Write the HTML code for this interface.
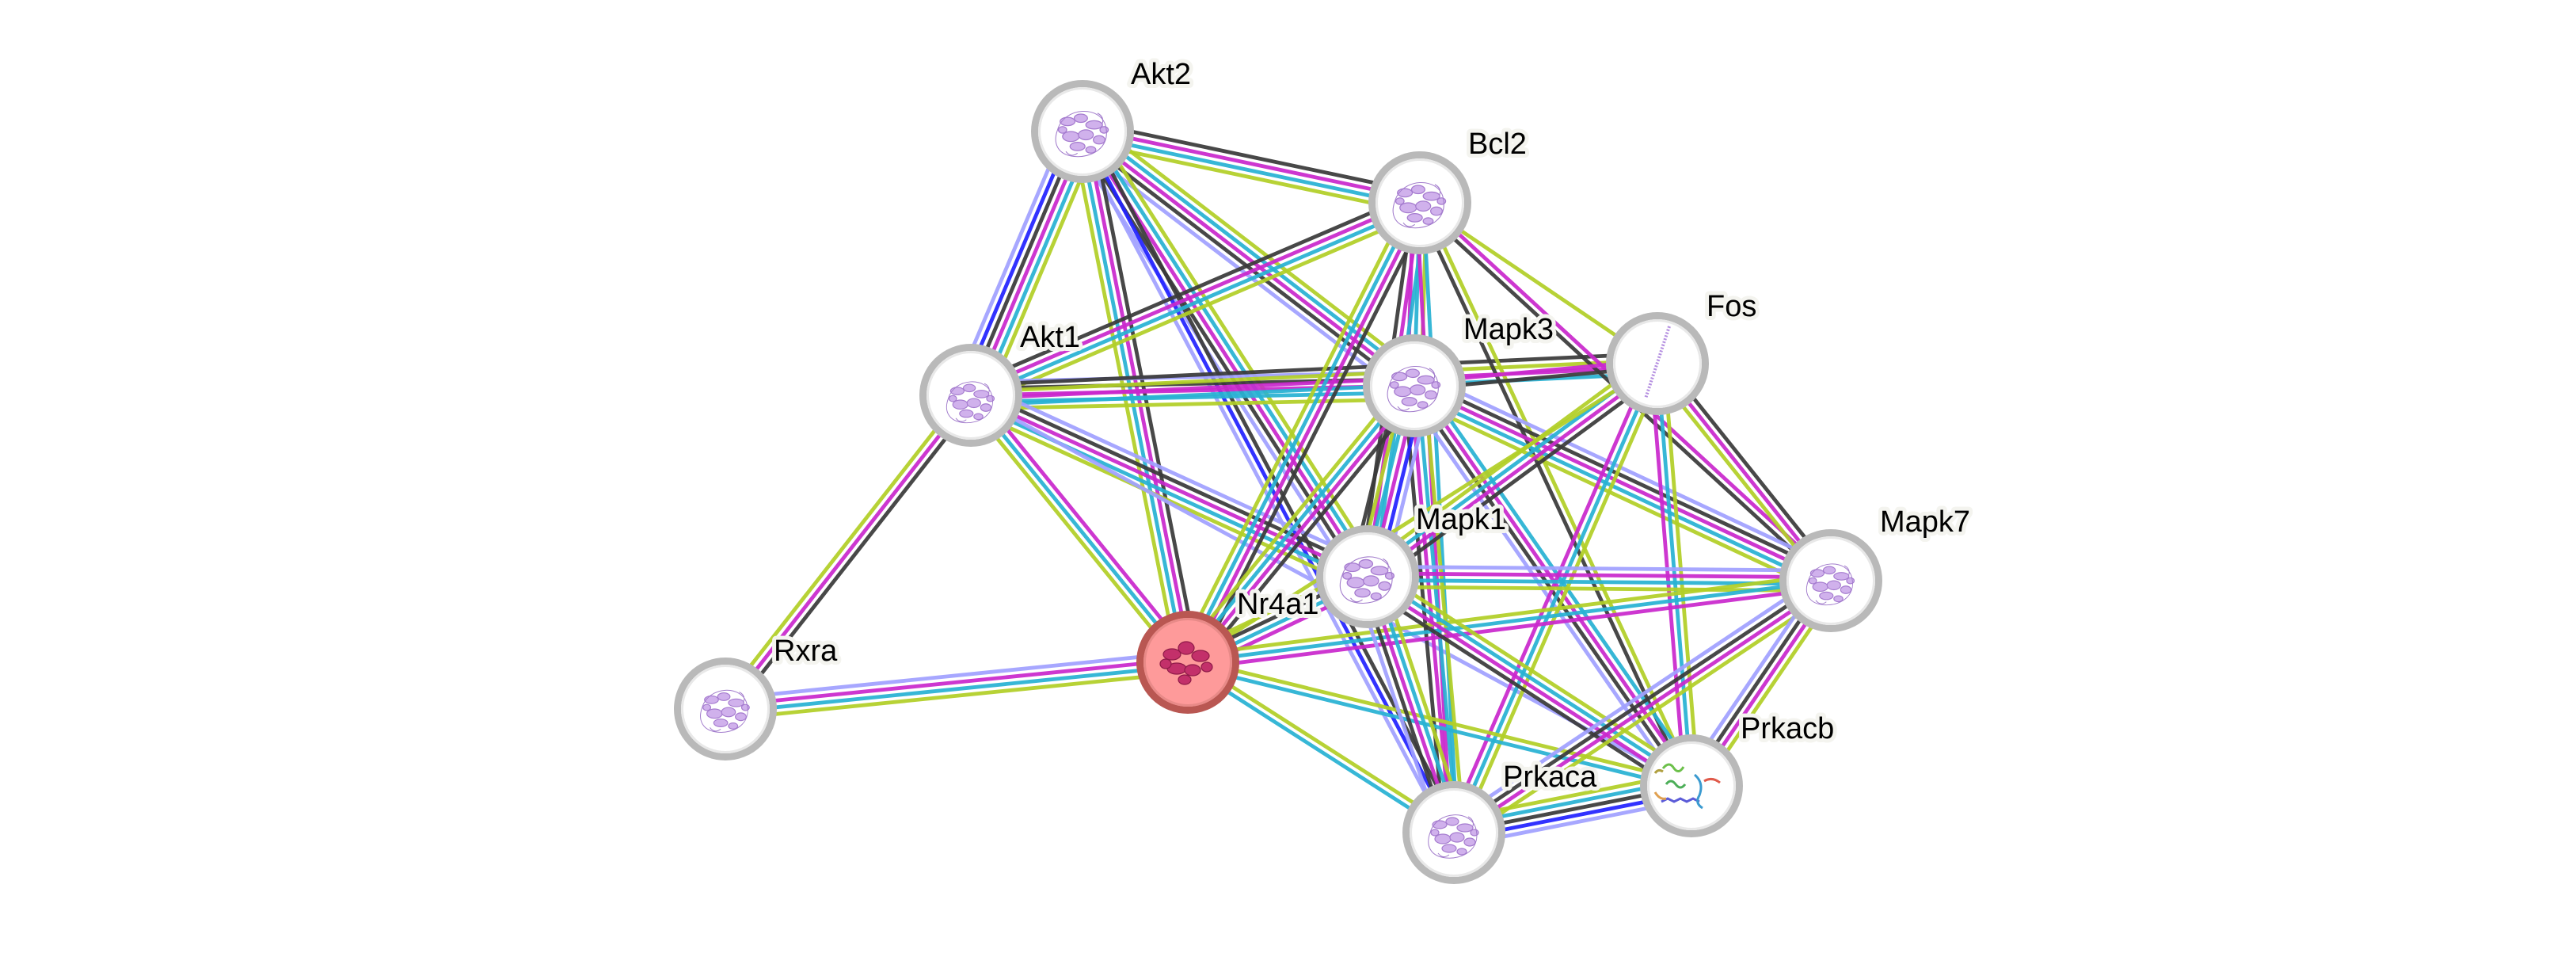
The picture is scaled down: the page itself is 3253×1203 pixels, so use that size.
<!DOCTYPE html>
<html><head><meta charset="utf-8"><style>
html,body{margin:0;padding:0;background:#fff;}
svg{display:block;}
line{stroke-width:4.8px;vector-effect:non-scaling-stroke;stroke-opacity:.93;}
.P{stroke:#a0a0ff}.U{stroke:#2222ff}.K{stroke:#3a3a3a}.M{stroke:#c928cc}.C{stroke:#28b2d3}.Y{stroke:#b2cf27}
.lb{font-family:"Liberation Sans",Arial,sans-serif;font-size:38px;fill:#000;stroke:#f4f4ef;stroke-width:10px;stroke-linejoin:round;paint-order:stroke fill;}
</style></head><body>
<svg width="3253" height="1203" viewBox="0 0 3253 1203" xmlns="http://www.w3.org/2000/svg">
<defs>
<symbol id="pr" overflow="visible" viewBox="-40 -40 80 80" width="80" height="80">
<g fill="#cba9ea" stroke="#9c6dca" stroke-width="1.2" opacity=".9">
<ellipse cx="-18" cy="-12" rx="9" ry="5"/><ellipse cx="-2" cy="-16" rx="8" ry="5"/>
<ellipse cx="14" cy="-8" rx="10" ry="5"/><ellipse cx="-14" cy="6" rx="10" ry="6"/>
<ellipse cx="4" cy="4" rx="9" ry="6"/><ellipse cx="20" cy="10" rx="7" ry="5"/>
<ellipse cx="-6" cy="18" rx="9" ry="5"/><ellipse cx="10" cy="22" rx="6" ry="4"/>
<ellipse cx="-24" cy="-2" rx="5" ry="4"/><ellipse cx="26" cy="-2" rx="5" ry="4"/>
</g>
<path fill="none" stroke="#a27ccc" stroke-width="1" d="M-30,-2 C-22,-30 22,-32 28,-6 S10,32 -10,30 S-36,14 -30,-2 M-20,24 q6,8 14,2 M18,-22 q8,4 6,12"/>
</symbol>
</defs>

<!-- edges -->
<g transform="matrix(426 90 -0.2067 0.9784 1367 166)"><line x2="1" y1="-12.75" y2="-12.75" class="K"/><line x2="1" y1="-4.25" y2="-4.25" class="M"/><line x2="1" y1="4.25" y2="4.25" class="C"/><line x2="1" y1="12.75" y2="12.75" class="Y"/></g>
<g transform="matrix(141 -333 0.9209 0.3899 1226 499)"><line x2="1" y1="-21.25" y2="-21.25" class="P"/><line x2="1" y1="-12.75" y2="-12.75" class="U"/><line x2="1" y1="-4.25" y2="-4.25" class="K"/><line x2="1" y1="4.25" y2="4.25" class="M"/><line x2="1" y1="12.75" y2="12.75" class="C"/><line x2="1" y1="21.25" y2="21.25" class="Y"/></g>
<g transform="matrix(419 321 -0.6082 0.7939 1367 166)"><line x2="1" y1="-17" y2="-17" class="Y"/><line x2="1" y1="-8.5" y2="-8.5" class="C"/><line x2="1" y1="0" y2="0" class="M"/><line x2="1" y1="8.5" y2="8.5" class="K"/><line x2="1" y1="17" y2="17" class="P"/></g>
<g transform="matrix(360 562 -0.8421 0.5394 1367 166)"><line x2="1" y1="-17" y2="-17" class="Y"/><line x2="1" y1="-8.5" y2="-8.5" class="C"/><line x2="1" y1="0" y2="0" class="M"/><line x2="1" y1="8.5" y2="8.5" class="K"/><line x2="1" y1="17" y2="17" class="P"/></g>
<g transform="matrix(469 885 -0.8836 0.4683 1367 166)"><line x2="1" y1="-8.5" y2="-8.5" class="K"/><line x2="1" y1="0" y2="0" class="U"/><line x2="1" y1="8.5" y2="8.5" class="P"/></g>
<g transform="matrix(133 670 -0.9808 0.1947 1367 166)"><line x2="1" y1="-12.75" y2="-12.75" class="K"/><line x2="1" y1="-4.25" y2="-4.25" class="M"/><line x2="1" y1="4.25" y2="4.25" class="C"/><line x2="1" y1="12.75" y2="12.75" class="Y"/></g>
<g transform="matrix(567 -243 0.3939 0.9191 1226 499)"><line x2="1" y1="-12.75" y2="-12.75" class="K"/><line x2="1" y1="-4.25" y2="-4.25" class="M"/><line x2="1" y1="4.25" y2="4.25" class="C"/><line x2="1" y1="12.75" y2="12.75" class="Y"/></g>
<g transform="matrix(560 -12 0.0214 0.9998 1226 499)"><line x2="1" y1="-17" y2="-17" class="P"/><line x2="1" y1="-8.5" y2="-8.5" class="K"/><line x2="1" y1="0" y2="0" class="M"/><line x2="1" y1="8.5" y2="8.5" class="C"/><line x2="1" y1="17" y2="17" class="Y"/></g>
<g transform="matrix(867 -40 0.0461 0.9989 1226 499)"><line x2="1" y1="-12.75" y2="-12.75" class="K"/><line x2="1" y1="-4.25" y2="-4.25" class="Y"/><line x2="1" y1="4.25" y2="4.25" class="M"/><line x2="1" y1="12.75" y2="12.75" class="C"/></g>
<g transform="matrix(501 229 -0.4157 0.9094 1226 499)"><line x2="1" y1="-17" y2="-17" class="P"/><line x2="1" y1="-8.5" y2="-8.5" class="K"/><line x2="1" y1="0" y2="0" class="M"/><line x2="1" y1="8.5" y2="8.5" class="C"/><line x2="1" y1="17" y2="17" class="Y"/></g>
<g transform="matrix(274 337 -0.7760 0.6309 1226 499)"><line x2="1" y1="-8.5" y2="-8.5" class="M"/><line x2="1" y1="0" y2="0" class="C"/><line x2="1" y1="8.5" y2="8.5" class="Y"/></g>
<g transform="matrix(310 -396 0.7874 0.6164 916 895)"><line x2="1" y1="-8.5" y2="-8.5" class="Y"/><line x2="1" y1="0" y2="0" class="M"/><line x2="1" y1="8.5" y2="8.5" class="K"/></g>
<g transform="matrix(910 493 -0.4763 0.8792 1226 499)"><line x2="1" y1="0" y2="0" class="P"/></g>
<g transform="matrix(584 -59 0.1005 0.9949 916 895)"><line x2="1" y1="-12.75" y2="-12.75" class="P"/><line x2="1" y1="-4.25" y2="-4.25" class="M"/><line x2="1" y1="4.25" y2="4.25" class="C"/><line x2="1" y1="12.75" y2="12.75" class="Y"/></g>
<g transform="matrix(7 -231 0.9996 0.0303 1786 487)"><line x2="1" y1="-8.5" y2="-8.5" class="M"/><line x2="1" y1="0" y2="0" class="C"/><line x2="1" y1="8.5" y2="8.5" class="Y"/></g>
<g transform="matrix(66 -472 0.9904 0.1385 1727 728)"><line x2="1" y1="-8.5" y2="-8.5" class="K"/><line x2="1" y1="0" y2="0" class="M"/><line x2="1" y1="8.5" y2="8.5" class="C"/></g>
<g transform="matrix(43 795 -0.9985 0.0540 1793 256)"><line x2="1" y1="-4.25" y2="-4.25" class="C"/><line x2="1" y1="4.25" y2="4.25" class="M"/></g>
<g transform="matrix(343 736 -0.9064 0.4224 1793 256)"><line x2="1" y1="-4.25" y2="-4.25" class="Y"/><line x2="1" y1="4.25" y2="4.25" class="K"/></g>
<g transform="matrix(300 203 -0.5605 0.8283 1793 256)"><line x2="1" y1="0" y2="0" class="Y"/></g>
<g transform="matrix(519 477 -0.6767 0.7363 1793 256)"><line x2="1" y1="-4.25" y2="-4.25" class="M"/><line x2="1" y1="4.25" y2="4.25" class="K"/></g>
<g transform="matrix(293 -580 0.8926 0.4509 1500 836)"><line x2="1" y1="-12.75" y2="-12.75" class="Y"/><line x2="1" y1="-4.25" y2="-4.25" class="C"/><line x2="1" y1="4.25" y2="4.25" class="M"/><line x2="1" y1="12.75" y2="12.75" class="K"/></g>
<g transform="matrix(307 -28 0.0908 0.9958 1786 487)"><line x2="1" y1="-4.25" y2="-4.25" class="M"/><line x2="1" y1="4.25" y2="4.25" class="K"/></g>
<g transform="matrix(526 246 -0.4236 0.9058 1786 487)"><line x2="1" y1="-17" y2="-17" class="P"/><line x2="1" y1="-8.5" y2="-8.5" class="K"/><line x2="1" y1="0" y2="0" class="M"/><line x2="1" y1="8.5" y2="8.5" class="C"/><line x2="1" y1="17" y2="17" class="Y"/></g>
<g transform="matrix(350 505 -0.8219 0.5697 1786 487)"><line x2="1" y1="-12.75" y2="-12.75" class="C"/><line x2="1" y1="-4.25" y2="-4.25" class="M"/><line x2="1" y1="4.25" y2="4.25" class="K"/><line x2="1" y1="12.75" y2="12.75" class="P"/></g>
<g transform="matrix(50 564 -0.9961 0.0883 1786 487)"><line x2="1" y1="-12.75" y2="-12.75" class="Y"/><line x2="1" y1="-4.25" y2="-4.25" class="C"/><line x2="1" y1="4.25" y2="4.25" class="M"/><line x2="1" y1="12.75" y2="12.75" class="K"/></g>
<g transform="matrix(59 -241 0.9714 0.2378 1727 728)"><line x2="1" y1="-21.25" y2="-21.25" class="K"/><line x2="1" y1="-12.75" y2="-12.75" class="Y"/><line x2="1" y1="-4.25" y2="-4.25" class="C"/><line x2="1" y1="4.25" y2="4.25" class="M"/><line x2="1" y1="12.75" y2="12.75" class="U"/><line x2="1" y1="21.25" y2="21.25" class="P"/></g>
<g transform="matrix(286 -349 0.7735 0.6339 1500 836)"><line x2="1" y1="-12.75" y2="-12.75" class="Y"/><line x2="1" y1="-4.25" y2="-4.25" class="C"/><line x2="1" y1="4.25" y2="4.25" class="M"/><line x2="1" y1="12.75" y2="12.75" class="K"/></g>
<g transform="matrix(366 -269 0.5922 0.8058 1727 728)"><line x2="1" y1="-12.75" y2="-12.75" class="Y"/><line x2="1" y1="-4.25" y2="-4.25" class="C"/><line x2="1" y1="4.25" y2="4.25" class="M"/><line x2="1" y1="12.75" y2="12.75" class="K"/></g>
<g transform="matrix(593 -377 0.5365 0.8439 1500 836)"><line x2="1" y1="0" y2="0" class="Y"/></g>
<g transform="matrix(219 274 -0.7811 0.6243 2093 459)"><line x2="1" y1="-8.5" y2="-8.5" class="K"/><line x2="1" y1="0" y2="0" class="M"/><line x2="1" y1="8.5" y2="8.5" class="Y"/></g>
<g transform="matrix(43 533 -0.9968 0.0804 2093 459)"><line x2="1" y1="-8.5" y2="-8.5" class="Y"/><line x2="1" y1="0" y2="0" class="C"/><line x2="1" y1="8.5" y2="8.5" class="M"/></g>
<g transform="matrix(257 -592 0.9173 0.3982 1836 1051)"><line x2="1" y1="-8.5" y2="-8.5" class="M"/><line x2="1" y1="0" y2="0" class="C"/><line x2="1" y1="8.5" y2="8.5" class="Y"/></g>
<g transform="matrix(585 5 -0.0085 1.0 1727 728)"><line x2="1" y1="-12.75" y2="-12.75" class="P"/><line x2="1" y1="-4.25" y2="-4.25" class="M"/><line x2="1" y1="4.25" y2="4.25" class="C"/><line x2="1" y1="12.75" y2="12.75" class="Y"/></g>
<g transform="matrix(227 -108 0.4296 0.9029 1500 836)"><line x2="1" y1="-12.75" y2="-12.75" class="Y"/><line x2="1" y1="-4.25" y2="-4.25" class="K"/><line x2="1" y1="4.25" y2="4.25" class="C"/><line x2="1" y1="12.75" y2="12.75" class="M"/></g>
<g transform="matrix(812 -103 0.1258 0.9921 1500 836)"><line x2="1" y1="-8.5" y2="-8.5" class="Y"/><line x2="1" y1="0" y2="0" class="C"/><line x2="1" y1="8.5" y2="8.5" class="M"/></g>
<g transform="matrix(636 156 -0.2382 0.9712 1500 836)"><line x2="1" y1="-4.25" y2="-4.25" class="Y"/><line x2="1" y1="4.25" y2="4.25" class="C"/></g>
<g transform="matrix(336 215 -0.5390 0.8423 1500 836)"><line x2="1" y1="-4.25" y2="-4.25" class="Y"/><line x2="1" y1="4.25" y2="4.25" class="C"/></g>
<g transform="matrix(109 323 -0.9475 0.3197 1727 728)"><line x2="1" y1="-17" y2="-17" class="Y"/><line x2="1" y1="-8.5" y2="-8.5" class="C"/><line x2="1" y1="0" y2="0" class="M"/><line x2="1" y1="8.5" y2="8.5" class="K"/><line x2="1" y1="17" y2="17" class="P"/></g>
<g transform="matrix(409 264 -0.5423 0.8402 1727 728)"><line x2="1" y1="-12.75" y2="-12.75" class="Y"/><line x2="1" y1="-4.25" y2="-4.25" class="C"/><line x2="1" y1="4.25" y2="4.25" class="M"/><line x2="1" y1="12.75" y2="12.75" class="K"/></g>
<g transform="matrix(300 -59 0.1930 0.9813 1836 1051)"><line x2="1" y1="-17" y2="-17" class="Y"/><line x2="1" y1="-8.5" y2="-8.5" class="C"/><line x2="1" y1="0" y2="0" class="K"/><line x2="1" y1="8.5" y2="8.5" class="U"/><line x2="1" y1="17" y2="17" class="P"/></g>
<g transform="matrix(476 -318 0.5556 0.8316 1836 1051)"><line x2="1" y1="-12.75" y2="-12.75" class="P"/><line x2="1" y1="-4.25" y2="-4.25" class="K"/><line x2="1" y1="4.25" y2="4.25" class="M"/><line x2="1" y1="12.75" y2="12.75" class="Y"/></g>
<g transform="matrix(176 -259 0.8272 0.5621 2136 992)"><line x2="1" y1="-12.75" y2="-12.75" class="P"/><line x2="1" y1="-4.25" y2="-4.25" class="K"/><line x2="1" y1="4.25" y2="4.25" class="M"/><line x2="1" y1="12.75" y2="12.75" class="Y"/></g>

<!-- nodes -->
<g stroke="#b9b9b9" stroke-width="9" fill="#fff">
<circle cx="1367" cy="166" r="60.5"/>
<circle cx="1793" cy="256" r="60.5"/>
<circle cx="1226" cy="499" r="60.5"/>
<circle cx="1786" cy="487" r="60.5"/>
<circle cx="2093" cy="459" r="60.5"/>
<circle cx="1727" cy="728" r="60.5"/>
<circle cx="2312" cy="733" r="60.5"/>
<circle cx="916" cy="895" r="60.5"/>
<circle cx="2136" cy="992" r="60.5"/>
<circle cx="1836" cy="1051" r="60.5"/>
</g>
<g stroke="#e8e8e8" stroke-width="3" fill="none">
<circle cx="1367" cy="166" r="54.5"/><circle cx="1793" cy="256" r="54.5"/><circle cx="1226" cy="499" r="54.5"/>
<circle cx="1786" cy="487" r="54.5"/><circle cx="2093" cy="459" r="54.5"/><circle cx="1727" cy="728" r="54.5"/>
<circle cx="2312" cy="733" r="54.5"/><circle cx="916" cy="895" r="54.5"/><circle cx="2136" cy="992" r="54.5"/>
<circle cx="1836" cy="1051" r="54.5"/>
</g>
<circle cx="1500" cy="836" r="60.5" fill="#fe9a9a" stroke="#b95752" stroke-width="9"/>
<circle cx="1500" cy="836" r="54.5" fill="none" stroke="#e88a88" stroke-width="3"/>

<!-- protein structures -->
<use href="#pr" x="1321" y="124" width="92" height="84"/>
<use href="#pr" x="1751" y="210" width="84" height="92"/>
<use href="#pr" x="1188" y="450" width="76" height="110"/>
<use href="#pr" x="1742" y="446" width="88" height="84"/>
<use href="#pr" x="1681" y="686" width="92" height="86"/>
<use href="#pr" x="2274" y="690" width="76" height="90"/>
<use href="#pr" x="874" y="856" width="84" height="78"/>
<use href="#pr" x="1796" y="1008" width="80" height="90"/>
<path d="M2108,412 L2078,503" stroke="#b48ee0" stroke-width="4" stroke-dasharray="2 2" fill="none"/>
<g fill="#c3306a" stroke="#8f1a48" stroke-width="1.2">
<ellipse cx="1480" cy="826" rx="11" ry="7"/><ellipse cx="1498" cy="818" rx="10" ry="8"/>
<ellipse cx="1516" cy="828" rx="11" ry="7"/><ellipse cx="1486" cy="844" rx="12" ry="7"/>
<ellipse cx="1506" cy="846" rx="10" ry="7"/><ellipse cx="1524" cy="842" rx="7" ry="6"/>
<ellipse cx="1496" cy="858" rx="8" ry="6"/><ellipse cx="1472" cy="838" rx="7" ry="6"/>
</g>
<g stroke-width="3" fill="none">
<path d="M2100,970 q8,-10 14,0 q6,8 12,-2" stroke="#6cc04a"/>
<path d="M2104,990 q6,-8 12,0 q6,8 12,0" stroke="#4cae58"/>
<path d="M2098,1012 l8,-4 l8,4 l8,-4 l8,4 l8,-4 l8,4" stroke="#5b5bd8"/>
<path d="M2090,1000 q6,10 14,8" stroke="#e0a050"/>
<path d="M2140,978 q12,10 6,26 q-6,10 4,16" stroke="#3a9ad0"/>
<path d="M2152,986 q10,-6 20,2" stroke="#e05a4a"/>
<path d="M2090,976 q4,-6 10,-2" stroke="#b0a040"/>
</g>

<!-- labels -->
<g class="lb">
<text x="1428" y="106">Akt2</text>
<text x="1854" y="194">Bcl2</text>
<text x="1288" y="438">Akt1</text>
<text x="1848" y="428">Mapk3</text>
<text x="2155" y="399">Fos</text>
<text x="1788" y="668">Mapk1</text>
<text x="2374" y="671">Mapk7</text>
<text x="1562" y="775">Nr4a1</text>
<text x="977" y="834">Rxra</text>
<text x="1898" y="993">Prkaca</text>
<text x="2198" y="932">Prkacb</text>
</g>
</svg>
</body></html>
